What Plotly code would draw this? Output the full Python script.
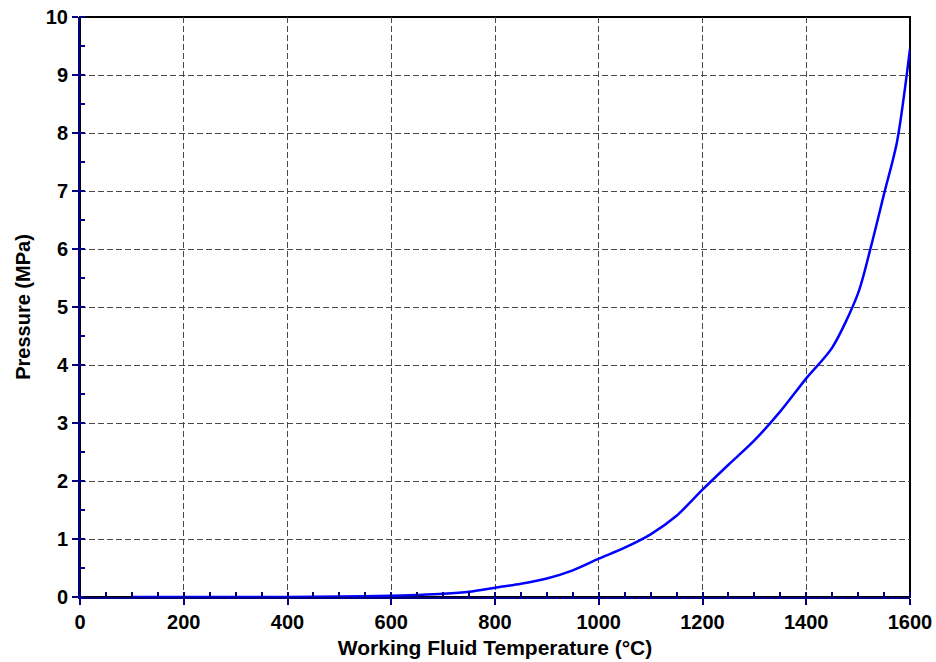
import plotly.graph_objects as go

temperature_c = [100, 200, 300, 400, 500, 600, 650, 700, 750, 800, 850, 900, 950,
                 1000, 1050, 1100, 1150, 1200, 1250, 1300, 1350, 1400, 1450,
                 1500, 1525, 1550, 1575, 1600]
pressure_mpa = [0.0, 0.0, 0.0, 0.002, 0.007, 0.02, 0.035, 0.055, 0.09, 0.16, 0.23,
                0.32, 0.46, 0.66, 0.85, 1.08, 1.40, 1.85, 2.28, 2.70, 3.20, 3.77,
                4.30, 5.24, 6.05, 6.95, 7.85, 9.45]

x_ticks = [0, 200, 400, 600, 800, 1000, 1200, 1400, 1600]
y_ticks = list(range(0, 11))

navy = "#000080"
fam = "Liberation Sans, Arial, sans-serif"
tick_font = dict(family=fam, size=20, color="black", weight="bold")

fig = go.Figure()
fig.add_trace(go.Scatter(x=temperature_c, y=pressure_mpa, mode="lines",
                         line=dict(color="#0000ff", width=2.5, shape="spline", smoothing=0.8),
                         showlegend=False))

axis_common = dict(showline=True, linecolor=navy, linewidth=2,
                   showgrid=True, gridcolor="#4a4a4a", gridwidth=1,
                   griddash="6px,3px", zeroline=False,
                   ticks="outside", ticklen=6, tickwidth=2, tickcolor=navy,
                   tickfont=tick_font, automargin=False, mirror=False,
                   ticklabeloverflow="allow")

fig.update_xaxes(range=[0, 1600], tickvals=x_ticks,
                 title=dict(text="Working Fluid Temperature (°C)",
                            font=dict(family=fam, size=21, color="black", weight="bold"),
                            standoff=8),
                 minor=dict(dtick=50, ticks="inside", ticklen=5, tickcolor=navy, tickwidth=1.5,
                            showgrid=False),
                 **axis_common)
fig.update_yaxes(range=[0, 10], tickvals=y_ticks,
                 title=dict(text="Pressure (MPa)",
                            font=dict(family=fam, size=20, color="black", weight="bold"),
                            standoff=10),
                 minor=dict(dtick=0.5, ticks="inside", ticklen=5, tickcolor=navy, tickwidth=1.5,
                            showgrid=False),
                 **axis_common)

fig.add_shape(type="rect", xref="paper", yref="paper", x0=0, y0=0, x1=1, y1=1,
              line=dict(color="black", width=2), layer="below")

fig.update_layout(width=936, height=662,
                  margin=dict(l=80, r=26, t=17, b=65),
                  plot_bgcolor="white", paper_bgcolor="white")

fig.write_html("out.html", config={"displayModeBar": False},
               post_script="document.body.style.margin='0';document.body.style.overflow='hidden';")
